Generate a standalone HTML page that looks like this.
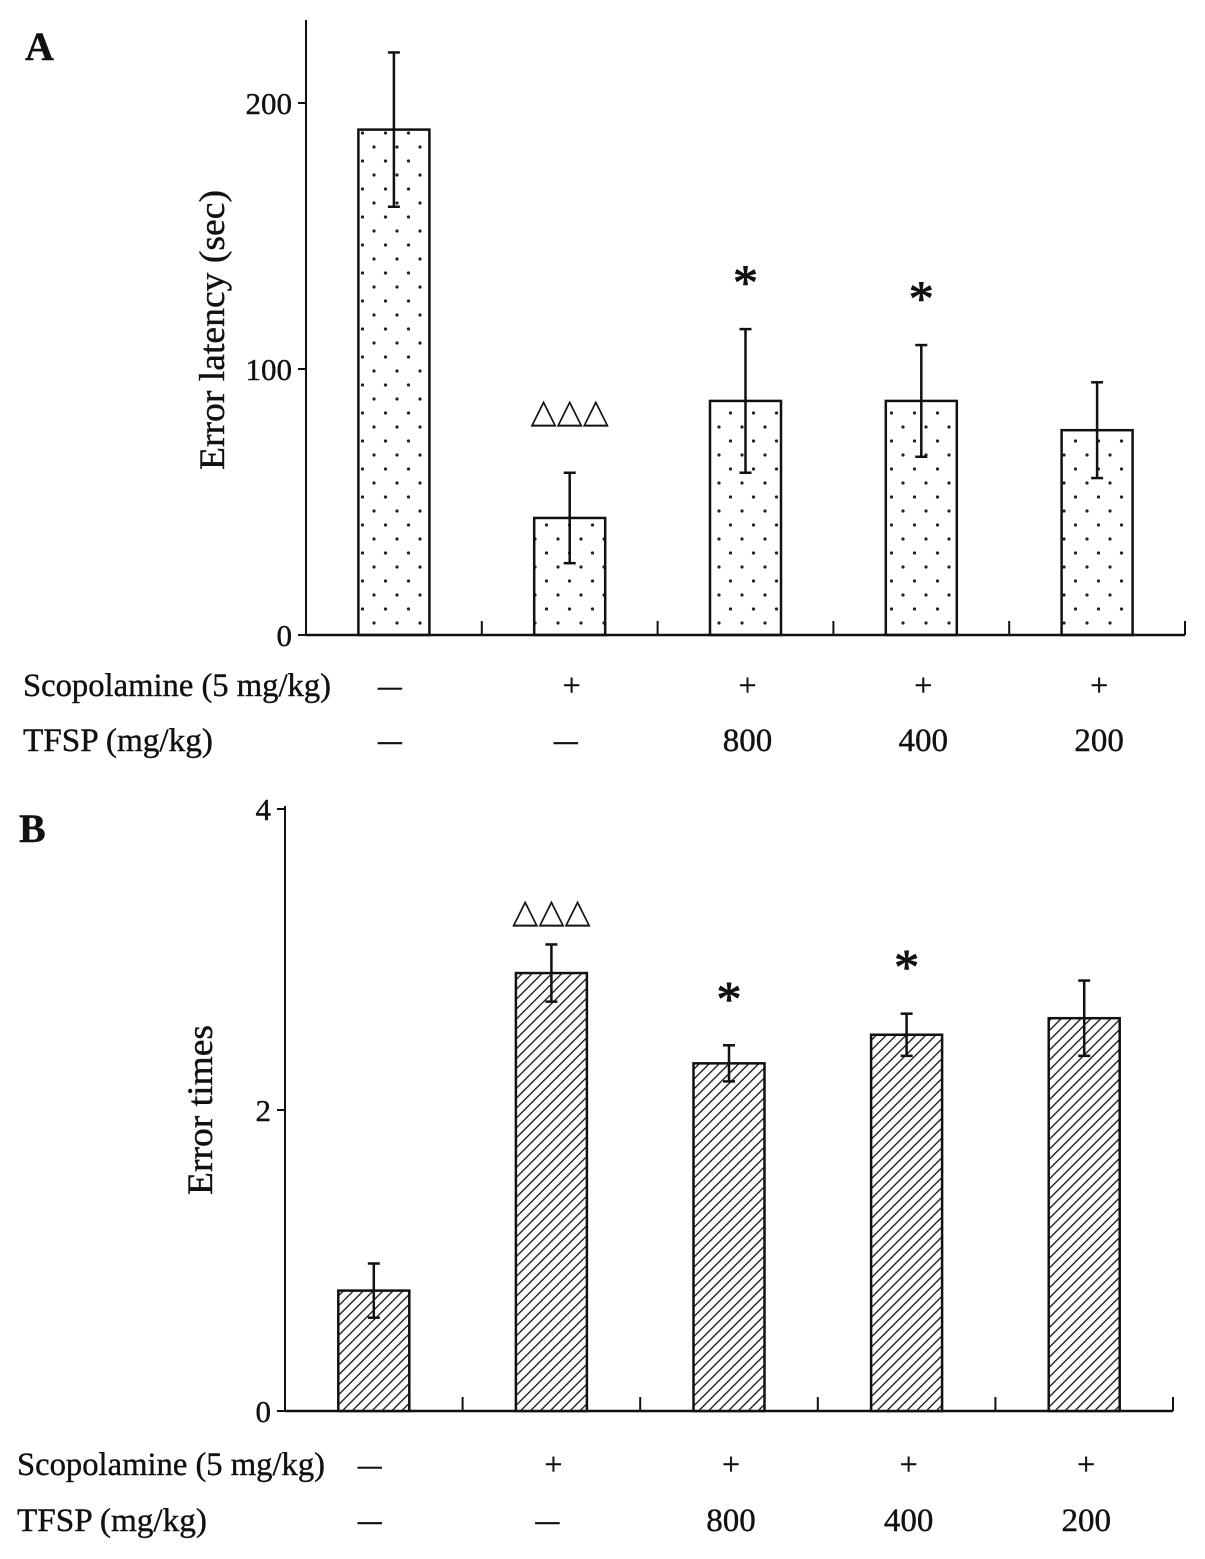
<!DOCTYPE html>
<html><head><meta charset="utf-8"><style>
body{margin:0;background:#fff}
svg{display:block;font-family:"Liberation Serif",serif}
</style></head><body>
<svg id="c" width="1205" height="1559" viewBox="0 0 1205 1559" xmlns="http://www.w3.org/2000/svg">
<defs>
<pattern id="dots" width="23" height="28" patternUnits="userSpaceOnUse">
<circle cx="6" cy="7" r="1.6" fill="#222"/><circle cx="17.5" cy="21" r="1.6" fill="#222"/>
</pattern>
<pattern id="hatch" width="7" height="7" patternUnits="userSpaceOnUse" patternTransform="rotate(45)">
<rect width="7" height="7" fill="#fff"/><line x1="0" y1="0" x2="0" y2="7" stroke="#111" stroke-width="2.6"/>
</pattern>
</defs>
</svg>
<script>
const categories=["1","2","3","4","5"];
const scopolamine=["—","+","+","+","+"];
const tfsp=["—","—","800","400","200"];
const latencyValues=[190,44,88,88,77];
const latencyErrors=[29,17,27,21,18];
const latencyMarks=["","△△△","*","*",""];
const latencyTicks=[0,100,200];
const errorValues=[0.80,2.91,2.31,2.50,2.61];
const errorErrors=[0.18,0.19,0.12,0.14,0.25];
const errorMarks=["","△△△","*","*",""];
const errorTicks=[0,2,4];

const svg=document.getElementById('c');
const NS='http://www.w3.org/2000/svg';
function mk(tag,attrs,parent,name){const e=document.createElementNS(NS,tag);for(const k in attrs)e.setAttribute(k,attrs[k]);(parent||svg).appendChild(e);


return e;}
function txt(s,x,y,size,anchor,parent,name,extra){const t=mk('text',Object.assign({x:x,y:y,'font-size':size,'text-anchor':anchor,fill:'#111',stroke:'#111','stroke-width':0.4},extra||{}),parent,name);t.textContent=s;return t;}

function panel(cfg){
  const g=mk('g',{},svg,cfg.name);
  const y=v=>cfg.y0-(v/cfg.max)*(cfg.y0-cfg.yTop);
  const step=(cfg.xEnd-cfg.x0)/categories.length;
  const cx=i=>cfg.x0+step*(i+0.5);
  mk('line',{x1:cfg.x0,y1:cfg.axisTop,x2:cfg.x0,y2:cfg.y0,stroke:'#111','stroke-width':2},g,'y-axis');
  mk('line',{x1:cfg.x0,y1:cfg.y0,x2:cfg.xEnd,y2:cfg.y0,stroke:'#111','stroke-width':2.5},g,'x-axis');
  cfg.ticks.forEach(t=>{
    mk('line',{x1:cfg.x0-8,y1:y(t),x2:cfg.x0,y2:y(t),stroke:'#111','stroke-width':2},g,'y-tick');
    txt(String(t),cfg.x0-14,y(t)+11,31,'end',g,'y-tick-label');
  });
  for(let i=1;i<=categories.length;i++){const x=cfg.x0+step*i;
    mk('line',{x1:x,y1:cfg.y0-14,x2:x,y2:cfg.y0,stroke:'#111','stroke-width':2},g,'x-tick');}
  const bw=71;
  cfg.values.forEach((v,i)=>{
    const x=cx(i)-bw/2;
    mk('rect',{x:x,y:y(v),width:bw,height:cfg.y0-y(v),fill:'url(#'+cfg.pat+')',stroke:'#111','stroke-width':2.5},g,'bar-'+(i+1));
    const e=cfg.errs[i];
    mk('line',{x1:cx(i),y1:y(v+e),x2:cx(i),y2:y(v-e),stroke:'#111','stroke-width':2.5},g,'error-bar');
    mk('line',{x1:cx(i)-6,y1:y(v+e),x2:cx(i)+6,y2:y(v+e),stroke:'#111','stroke-width':2.5},g,'error-cap');
    mk('line',{x1:cx(i)-6,y1:y(v-e),x2:cx(i)+6,y2:y(v-e),stroke:'#111','stroke-width':2.5},g,'error-cap');
    const m=cfg.marks[i];
    if(m==='*') txt('*',cx(i),y(v+e)-cfg.starGap,50,'middle',g,'significance-star',{'stroke-width':1});
    else if(m) txt(m,cx(i),y(v+e)-cfg.triGap,34,'middle',g,'significance-triangles',{'font-family':'"DejaVu Sans",sans-serif','stroke-width':0});
  });
  txt(cfg.ylabel,0,0,36,'middle',g,'y-axis-title',{transform:'translate('+cfg.ylx+','+cfg.yly+') rotate(-90)',textLength:cfg.ylen,lengthAdjust:'spacingAndGlyphs'});
  txt('Scopolamine (5 mg/kg)',cfg.lx,cfg.r1,33,'start',g,'scopolamine-label',{textLength:308,lengthAdjust:'spacingAndGlyphs'});
  txt('TFSP (mg/kg)',cfg.lx,cfg.r2,33,'start',g,'tfsp-label',{textLength:190,lengthAdjust:'spacingAndGlyphs'});
  scopolamine.forEach((s,i)=>txt(s,cx(i)+(i===0?-4:2),cfg.r1,32,'middle',g,'scopolamine-value',s==='—'?{textLength:24,lengthAdjust:'spacingAndGlyphs'}:{}));
  tfsp.forEach((s,i)=>txt(s,cx(i)+(s==='—'?-4:2),cfg.r2,33,'middle',g,'tfsp-value',s==='—'?{textLength:24,lengthAdjust:'spacingAndGlyphs'}:{}));
  txt(cfg.letter,cfg.lx+2,cfg.letterY,40,'start',g,'panel-letter',{'font-weight':'bold'});
}
panel({name:'panel-a',x0:306,xEnd:1185,y0:635,yTop:103,max:200,axisTop:20,values:latencyValues,errs:latencyErrors,marks:latencyMarks,ticks:latencyTicks,pat:'dots',ylabel:'Error latency (sec)',ylen:280,ylx:224,yly:330,lx:23,r1:696,r2:751,letter:'A',letterY:60,starGap:30,triGap:50});
panel({name:'panel-b',x0:285,xEnd:1173,y0:1411,yTop:809,max:4,axisTop:806,values:errorValues,errs:errorErrors,marks:errorMarks,ticks:errorTicks,pat:'hatch',ylabel:'Error times',ylen:170,ylx:212,yly:1110,lx:17,r1:1475,r2:1531,letter:'B',letterY:842,starGap:30,triGap:22});
</script>
</body></html>
